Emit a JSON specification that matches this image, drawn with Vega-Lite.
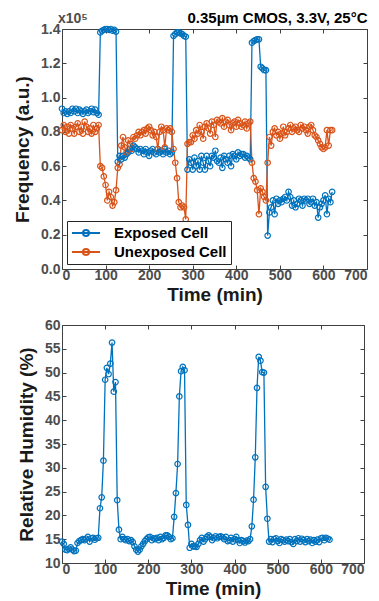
{
  "$schema": "https://vega.github.io/schema/vega-lite/v6.json",
  "padding": {"left": 13, "top": 10, "right": 5, "bottom": 0},
  "resolve": {"scale": {"color": "independent"}, "legend": {"color": "independent"}},
  "config": {
    "font": "Liberation Sans",
    "view": {"stroke": "#404040", "strokeWidth": 1},
    "axis": {
      "grid": false, "domain": false,
      "labelFont": "Liberation Sans", "labelFontWeight": "bold", "labelFontSize": 14, "labelColor": "#4d4d4d",
      "titleFont": "Liberation Sans", "titleFontWeight": "bold", "titleFontSize": 19, "titleColor": "#1a1a1a",
      "tickColor": "#404040", "tickSize": -4, "labelPadding": 3, "titlePadding": 3
    },
    "axisLeft": {"labelPadding": 6, "titlePadding": 8},
    "concat": {"spacing": 12}
  },
  "datasets": {
    "d": [
      {"t":0,"e":0.935,"u":0.81,"h":14.5},{"t":4,"e":0.91,"u":0.84,"h":14.0},{"t":8,"e":0.92,"u":0.80,"h":12.8},{"t":12,"e":0.905,"u":0.83,"h":12.7},
      {"t":16,"e":0.92,"u":0.79,"h":13.0},{"t":20,"e":0.91,"u":0.84,"h":13.3},{"t":24,"e":0.935,"u":0.82,"h":12.8},{"t":28,"e":0.92,"u":0.79,"h":12.5},
      {"t":32,"e":0.935,"u":0.83,"h":12.6},{"t":36,"e":0.91,"u":0.85,"h":14.2},{"t":40,"e":0.93,"u":0.80,"h":14.6},{"t":44,"e":0.92,"u":0.83,"h":14.8},
      {"t":48,"e":0.905,"u":0.79,"h":15.0},{"t":52,"e":0.92,"u":0.86,"h":14.8},{"t":56,"e":0.93,"u":0.83,"h":15.1},{"t":60,"e":0.91,"u":0.80,"h":15.5},
      {"t":64,"e":0.92,"u":0.82,"h":14.5},{"t":68,"e":0.935,"u":0.79,"h":15.2},{"t":72,"e":0.915,"u":0.84,"h":15.3},{"t":76,"e":0.93,"u":0.80,"h":14.9},
      {"t":80,"e":0.91,"u":0.82,"h":15.2},{"t":84,"e":0.90,"u":0.84,"h":15.3},{"t":88,"e":1.38,"u":0.60,"h":21.5},{"t":92,"e":1.39,"u":0.59,"h":23.8},
      {"t":96,"e":1.395,"u":0.54,"h":31.5},{"t":100,"e":1.40,"u":0.49,"h":48.5},{"t":104,"e":1.40,"u":0.40,"h":51.0},{"t":108,"e":1.395,"u":0.45,"h":49.7},
      {"t":112,"e":1.40,"u":0.42,"h":51.9},{"t":116,"e":1.39,"u":0.37,"h":56.3},{"t":120,"e":1.395,"u":0.39,"h":46.0},{"t":124,"e":1.385,"u":0.46,"h":48.0},
      {"t":128,"e":0.625,"u":0.59,"h":23.2},{"t":132,"e":0.66,"u":0.61,"h":17.0},{"t":136,"e":0.64,"u":0.72,"h":15.0},{"t":140,"e":0.66,"u":0.77,"h":15.5},
      {"t":144,"e":0.65,"u":0.71,"h":15.0},{"t":148,"e":0.67,"u":0.68,"h":14.8},{"t":152,"e":0.68,"u":0.75,"h":15.0},{"t":156,"e":0.70,"u":0.73,"h":14.6},
      {"t":160,"e":0.69,"u":0.70,"h":14.8},{"t":164,"e":0.72,"u":0.77,"h":14.4},{"t":168,"e":0.71,"u":0.76,"h":13.5},{"t":172,"e":0.70,"u":0.78,"h":12.8},
      {"t":176,"e":0.68,"u":0.80,"h":12.4},{"t":180,"e":0.70,"u":0.78,"h":12.8},{"t":184,"e":0.69,"u":0.80,"h":13.5},{"t":188,"e":0.67,"u":0.81,"h":14.0},
      {"t":192,"e":0.70,"u":0.79,"h":14.6},{"t":196,"e":0.68,"u":0.82,"h":15.0},{"t":200,"e":0.66,"u":0.83,"h":15.4},{"t":204,"e":0.69,"u":0.81,"h":15.5},
      {"t":208,"e":0.70,"u":0.78,"h":14.8},{"t":212,"e":0.68,"u":0.80,"h":15.2},{"t":216,"e":0.67,"u":0.77,"h":15.0},{"t":220,"e":0.70,"u":0.70,"h":15.3},
      {"t":224,"e":0.68,"u":0.80,"h":14.8},{"t":228,"e":0.69,"u":0.83,"h":15.5},{"t":232,"e":0.67,"u":0.81,"h":15.0},{"t":236,"e":0.70,"u":0.71,"h":15.3},
      {"t":240,"e":0.68,"u":0.82,"h":15.8},{"t":244,"e":0.69,"u":0.81,"h":15.8},{"t":248,"e":0.67,"u":0.82,"h":15.5},{"t":252,"e":0.68,"u":0.80,"h":15.0},
      {"t":256,"e":1.36,"u":0.70,"h":15.2},{"t":260,"e":1.37,"u":0.62,"h":19.7},{"t":264,"e":1.38,"u":0.53,"h":24.7},{"t":268,"e":1.38,"u":0.39,"h":30.8},
      {"t":272,"e":1.375,"u":0.36,"h":45.0},{"t":276,"e":1.37,"u":0.37,"h":50.3},{"t":280,"e":1.36,"u":0.36,"h":51.2},{"t":284,"e":1.355,"u":0.29,"h":50.5},
      {"t":288,"e":0.58,"u":0.73,"h":22.2},{"t":292,"e":0.64,"u":0.74,"h":18.0},{"t":296,"e":0.62,"u":0.74,"h":13.2},{"t":300,"e":0.58,"u":0.78,"h":14.0},
      {"t":304,"e":0.65,"u":0.76,"h":13.5},{"t":308,"e":0.60,"u":0.81,"h":13.5},{"t":312,"e":0.63,"u":0.79,"h":13.4},{"t":316,"e":0.58,"u":0.84,"h":14.0},
      {"t":320,"e":0.66,"u":0.80,"h":14.8},{"t":324,"e":0.62,"u":0.76,"h":15.3},{"t":328,"e":0.58,"u":0.83,"h":14.5},{"t":332,"e":0.66,"u":0.85,"h":15.0},
      {"t":336,"e":0.63,"u":0.82,"h":15.5},{"t":340,"e":0.60,"u":0.79,"h":15.8},{"t":344,"e":0.66,"u":0.86,"h":15.5},{"t":348,"e":0.65,"u":0.84,"h":14.8},
      {"t":352,"e":0.69,"u":0.77,"h":15.2},{"t":356,"e":0.63,"u":0.87,"h":15.6},{"t":360,"e":0.62,"u":0.86,"h":15.2},{"t":364,"e":0.65,"u":0.85,"h":15.5},
      {"t":368,"e":0.59,"u":0.88,"h":15.6},{"t":372,"e":0.66,"u":0.83,"h":15.4},{"t":376,"e":0.64,"u":0.86,"h":15.0},{"t":380,"e":0.62,"u":0.87,"h":15.5},
      {"t":384,"e":0.66,"u":0.84,"h":14.6},{"t":388,"e":0.60,"u":0.81,"h":14.8},{"t":392,"e":0.67,"u":0.85,"h":15.3},{"t":396,"e":0.66,"u":0.86,"h":14.5},
      {"t":400,"e":0.64,"u":0.83,"h":15.0},{"t":404,"e":0.68,"u":0.87,"h":15.5},{"t":408,"e":0.66,"u":0.85,"h":14.8},{"t":412,"e":0.67,"u":0.83,"h":14.2},
      {"t":416,"e":0.67,"u":0.84,"h":14.8},{"t":420,"e":0.65,"u":0.86,"h":14.6},{"t":424,"e":0.66,"u":0.82,"h":14.3},{"t":428,"e":0.65,"u":0.85,"h":14.7},
      {"t":432,"e":0.64,"u":0.86,"h":14.6},{"t":436,"e":1.32,"u":0.62,"h":15.0},{"t":440,"e":1.33,"u":0.53,"h":17.7},{"t":444,"e":1.335,"u":0.51,"h":23.3},
      {"t":448,"e":1.34,"u":0.46,"h":32.2},{"t":452,"e":1.34,"u":0.32,"h":46.8},{"t":456,"e":1.18,"u":0.47,"h":53.3},{"t":460,"e":1.17,"u":0.45,"h":52.5},
      {"t":464,"e":1.16,"u":0.42,"h":50.1},{"t":468,"e":1.16,"u":0.40,"h":50.0},{"t":472,"e":0.195,"u":0.62,"h":26.0},{"t":476,"e":0.33,"u":0.77,"h":19.3},
      {"t":480,"e":0.36,"u":0.72,"h":14.5},{"t":484,"e":0.40,"u":0.80,"h":15.0},{"t":488,"e":0.32,"u":0.82,"h":14.4},{"t":492,"e":0.41,"u":0.78,"h":15.0},
      {"t":496,"e":0.38,"u":0.80,"h":15.2},{"t":500,"e":0.40,"u":0.76,"h":14.6},{"t":504,"e":0.39,"u":0.79,"h":14.2},{"t":508,"e":0.41,"u":0.83,"h":15.0},
      {"t":512,"e":0.42,"u":0.78,"h":14.8},{"t":516,"e":0.40,"u":0.80,"h":14.5},{"t":520,"e":0.45,"u":0.82,"h":14.9},{"t":524,"e":0.42,"u":0.84,"h":14.6},
      {"t":528,"e":0.37,"u":0.80,"h":15.0},{"t":532,"e":0.40,"u":0.82,"h":14.4},{"t":536,"e":0.36,"u":0.83,"h":14.0},{"t":540,"e":0.38,"u":0.81,"h":15.0},
      {"t":544,"e":0.41,"u":0.80,"h":14.6},{"t":548,"e":0.40,"u":0.84,"h":15.2},{"t":552,"e":0.37,"u":0.82,"h":14.5},{"t":556,"e":0.41,"u":0.83,"h":15.1},
      {"t":560,"e":0.40,"u":0.81,"h":14.8},{"t":564,"e":0.41,"u":0.79,"h":14.4},{"t":568,"e":0.38,"u":0.83,"h":15.0},{"t":572,"e":0.39,"u":0.84,"h":14.6},
      {"t":576,"e":0.41,"u":0.81,"h":14.9},{"t":580,"e":0.37,"u":0.78,"h":14.2},{"t":584,"e":0.39,"u":0.77,"h":14.8},{"t":588,"e":0.30,"u":0.75,"h":14.5},
      {"t":592,"e":0.36,"u":0.73,"h":14.9},{"t":596,"e":0.38,"u":0.71,"h":14.4},{"t":600,"e":0.40,"u":0.70,"h":15.2},{"t":604,"e":0.43,"u":0.71,"h":15.3},
      {"t":608,"e":0.32,"u":0.81,"h":14.8},{"t":612,"e":0.41,"u":0.72,"h":15.3},{"t":616,"e":0.39,"u":0.81,"h":15.1},{"t":620,"e":0.45,"u":0.81,"h":14.9}
    ]
  },
  "vconcat": [
    {
      "width": 305,
      "height": 240,
      "title": {"text": "0.35µm CMOS, 3.3V, 25°C", "anchor": "end", "fontSize": 15, "fontWeight": "bold", "color": "#000000", "font": "Liberation Sans", "offset": -14},
      "layer": [
        {
          "data": {"name": "d"},
          "transform": [{"fold": ["e", "u"], "as": ["cell", "f"]}],
          "mark": {"type": "line", "strokeWidth": 1.3, "point": {"filled": false, "size": 30, "strokeWidth": 1.2}},
          "encoding": {
            "x": {"field": "t", "type": "quantitative", "scale": {"domain": [0, 700]},
                  "axis": {"orient": "bottom", "title": "Time (min)", "values": [0, 100, 200, 300, 400, 500, 600, 700]}},
            "y": {"field": "f", "type": "quantitative", "scale": {"domain": [0, 1.4]},
                  "axis": {"orient": "left", "title": "Frequency (a.u.)", "format": ".1f", "values": [0, 0.2, 0.4, 0.6, 0.8, 1.0, 1.2, 1.4]}},
            "color": {"field": "cell", "type": "nominal",
                      "scale": {"domain": ["e", "u"], "range": ["#0072BD", "#D95319"]},
                      "legend": {"title": null, "orient": "bottom-left", "offset": 5,
                                 "labelExpr": "datum.label == 'e' ? 'Exposed Cell' : 'Unexposed Cell'",
                                 "labelFont": "Liberation Sans", "labelFontSize": 15, "labelFontWeight": "bold", "labelColor": "#000000",
                                 "symbolType": "M-2,0H2M0.43,0A0.43,0.43 0 1,1 -0.43,0A0.43,0.43 0 1,1 0.43,0",
                                 "symbolSize": 196, "symbolStrokeWidth": 2, "symbolFillColor": "transparent",
                                 "symbolOffset": 7, "labelOffset": 20, "rowPadding": 3, "padding": 4,
                                 "strokeColor": "#262626", "fillColor": "#ffffff"}}
          }
        },
        {
          "data": {"values": [{}]},
          "mark": {"type": "text", "text": "x10⁵", "align": "left", "baseline": "bottom", "dx": -4, "dy": -3, "fontSize": 14, "fontWeight": "bold", "color": "#4d4d4d"},
          "encoding": {
            "x": {"datum": 0, "type": "quantitative", "axis": null},
            "y": {"datum": 1.4, "type": "quantitative", "axis": null}
          }
        },
        {
          "data": {"name": "d"},
          "mark": {"type": "point", "opacity": 0},
          "encoding": {
            "x": {"field": "t", "type": "quantitative", "axis": {"orient": "top", "labels": false, "title": null, "values": [0, 100, 200, 300, 400, 500, 600, 700]}},
            "y": {"field": "e", "type": "quantitative", "axis": {"orient": "right", "labels": false, "title": null, "values": [0, 0.2, 0.4, 0.6, 0.8, 1.0, 1.2, 1.4]}}
          }
        }
      ],
      "resolve": {"axis": {"x": "independent", "y": "independent"}}
    },
    {
      "width": 302,
      "height": 238,
      "layer": [
        {
          "data": {"name": "d"},
          "mark": {"type": "line", "color": "#0072BD", "strokeWidth": 1.3, "point": {"filled": false, "size": 30, "strokeWidth": 1.2, "color": "#0072BD"}},
          "encoding": {
            "x": {"field": "t", "type": "quantitative", "scale": {"domain": [0, 700]},
                  "axis": {"orient": "bottom", "title": "Time (min)", "values": [0, 100, 200, 300, 400, 500, 600, 700]}},
            "y": {"field": "h", "type": "quantitative", "scale": {"domain": [10, 60]},
                  "axis": {"orient": "left", "title": "Relative Humidity (%)", "values": [10, 15, 20, 25, 30, 35, 40, 45, 50, 55, 60]}}
          }
        },
        {
          "data": {"name": "d"},
          "mark": {"type": "point", "opacity": 0},
          "encoding": {
            "x": {"field": "t", "type": "quantitative", "axis": {"orient": "top", "labels": false, "title": null, "values": [0, 100, 200, 300, 400, 500, 600, 700]}},
            "y": {"field": "h", "type": "quantitative", "axis": {"orient": "right", "labels": false, "title": null, "values": [10, 15, 20, 25, 30, 35, 40, 45, 50, 55, 60]}}
          }
        }
      ],
      "resolve": {"axis": {"x": "independent", "y": "independent"}}
    }
  ]
}
